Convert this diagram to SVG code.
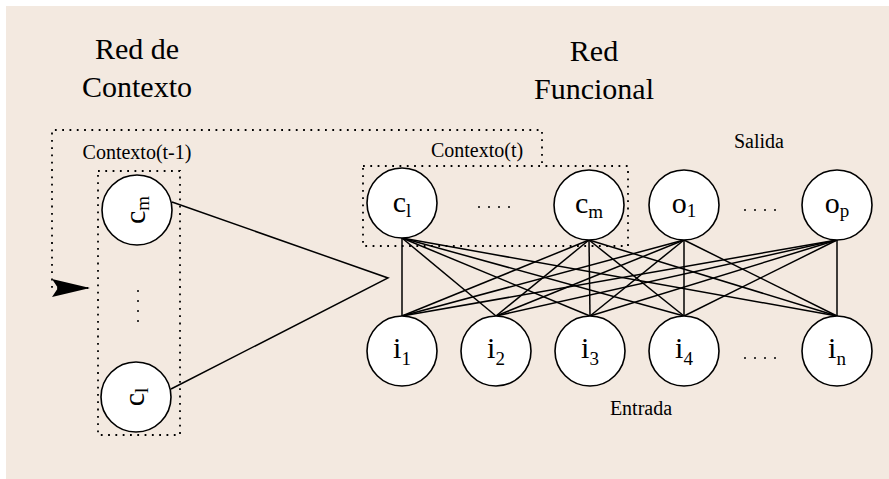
<svg xmlns="http://www.w3.org/2000/svg" width="889" height="479" viewBox="0 0 889 479">
<style>
.t{font-family:"Liberation Serif","Times New Roman",serif;fill:#000}
.title{font-size:30px;text-anchor:middle}
.lab{font-size:20px;text-anchor:middle}
.nl{font-size:30px;text-anchor:middle}
.sub{font-size:19px}
.node{fill:#fff;stroke:#000;stroke-width:1.6}
.edge{stroke:#000;stroke-width:1.5;fill:none}
.dot{stroke:#000;stroke-width:1.8;fill:none;stroke-dasharray:1.8 5.5}
.fdot{fill:#000}
</style>
<defs>
<marker id="arr" markerWidth="40" markerHeight="20" refX="38" refY="9" orient="auto" markerUnits="userSpaceOnUse">
<path d="M0,0 L38,9 L0,18 L6,9 Z" fill="#000"/>
</marker>
</defs>
<rect x="6" y="6" width="883" height="473" fill="#f3e9e0"/>

<g id="titles">
<text class="t title" x="137" y="59">Red de</text>
<text class="t title" x="137" y="97">Contexto</text>
<text class="t title" x="594" y="61">Red</text>
<text class="t title" x="594" y="99">Funcional</text>
<text class="t lab" x="137" y="159">Contexto(t-1)</text>
<text class="t lab" x="477" y="157">Contexto(t)</text>
<text class="t lab" x="759" y="148">Salida</text>
<text class="t lab" x="641" y="415">Entrada</text>
</g>

<g id="groups">
<path class="dot" d="M542,163 L542,130 L52,130 L52,288 L90,288" marker-end="url(#arr)"/>
<rect class="dot" x="98" y="171" width="82" height="264"/>
<rect class="dot" x="363" y="166" width="265" height="80"/>
</g>

<g id="connectors">
<path class="edge" d="M172,202 L388,278 L171,389"/>
<g>
<line class="edge" x1="402" y1="238" x2="402" y2="316"/>
<line class="edge" x1="402" y1="238" x2="496" y2="316"/>
<line class="edge" x1="402" y1="238" x2="590" y2="316"/>
<line class="edge" x1="402" y1="238" x2="684" y2="316"/>
<line class="edge" x1="402" y1="238" x2="837" y2="316"/>
<line class="edge" x1="589" y1="240" x2="402" y2="316"/>
<line class="edge" x1="589" y1="240" x2="496" y2="316"/>
<line class="edge" x1="589" y1="240" x2="590" y2="316"/>
<line class="edge" x1="589" y1="240" x2="684" y2="316"/>
<line class="edge" x1="589" y1="240" x2="837" y2="316"/>
<line class="edge" x1="684" y1="240" x2="402" y2="316"/>
<line class="edge" x1="684" y1="240" x2="496" y2="316"/>
<line class="edge" x1="684" y1="240" x2="590" y2="316"/>
<line class="edge" x1="684" y1="240" x2="684" y2="316"/>
<line class="edge" x1="684" y1="240" x2="837" y2="316"/>
<line class="edge" x1="837" y1="240" x2="402" y2="316"/>
<line class="edge" x1="837" y1="240" x2="496" y2="316"/>
<line class="edge" x1="837" y1="240" x2="590" y2="316"/>
<line class="edge" x1="837" y1="240" x2="684" y2="316"/>
<line class="edge" x1="837" y1="240" x2="837" y2="316"/>
</g>
</g>

<g id="ctx-cm">
<circle class="node" cx="137" cy="210" r="35"/>
<text class="t nl" transform="translate(137,210) rotate(-90)" x="0" y="8">c<tspan class="sub" dy="4">m</tspan></text>
</g>
<g id="ctx-dots">
<circle class="fdot" cx="138" cy="291" r="1"/>
<circle class="fdot" cx="138" cy="301" r="1"/>
<circle class="fdot" cx="138" cy="311" r="1"/>
<circle class="fdot" cx="138" cy="321" r="1"/>
</g>
<g id="ctx-cl">
<circle class="node" cx="136" cy="397" r="35"/>
<text class="t nl" transform="translate(136,397) rotate(-90)" x="0" y="8">c<tspan class="sub" dy="4">l</tspan></text>
</g>

<g id="f-cl">
<circle class="node" cx="402" cy="203" r="35"/>
<text class="t nl" x="402" y="212">c<tspan class="sub" dy="5">l</tspan></text>
</g>
<g id="f-cdots">
<circle class="fdot" cx="479" cy="207" r="1"/>
<circle class="fdot" cx="489" cy="207" r="1"/>
<circle class="fdot" cx="499" cy="207" r="1"/>
<circle class="fdot" cx="509" cy="207" r="1"/>
</g>
<g id="f-cm">
<circle class="node" cx="589" cy="205" r="35"/>
<text class="t nl" x="589" y="213">c<tspan class="sub" dy="5">m</tspan></text>
</g>
<g id="f-o1">
<circle class="node" cx="684" cy="205" r="35"/>
<text class="t nl" x="684" y="213">o<tspan class="sub" dy="4">1</tspan></text>
</g>
<g id="f-odots">
<circle class="fdot" cx="745" cy="210" r="1"/>
<circle class="fdot" cx="755" cy="210" r="1"/>
<circle class="fdot" cx="765" cy="210" r="1"/>
<circle class="fdot" cx="775" cy="210" r="1"/>
</g>
<g id="f-op">
<circle class="node" cx="837" cy="205" r="35"/>
<text class="t nl" x="837" y="213">o<tspan class="sub" dy="4">p</tspan></text>
</g>

<g id="i1">
<circle class="node" cx="402" cy="351" r="35"/>
<text class="t nl" x="402" y="358">i<tspan class="sub" dy="7">1</tspan></text>
</g>
<g id="i2">
<circle class="node" cx="496" cy="351" r="35"/>
<text class="t nl" x="496" y="358">i<tspan class="sub" dy="7">2</tspan></text>
</g>
<g id="i3">
<circle class="node" cx="590" cy="351" r="35"/>
<text class="t nl" x="590" y="358">i<tspan class="sub" dy="7">3</tspan></text>
</g>
<g id="i4">
<circle class="node" cx="684" cy="351" r="35"/>
<text class="t nl" x="684" y="358">i<tspan class="sub" dy="7">4</tspan></text>
</g>
<g id="i-dots">
<circle class="fdot" cx="745" cy="358" r="1"/>
<circle class="fdot" cx="755" cy="358" r="1"/>
<circle class="fdot" cx="765" cy="358" r="1"/>
<circle class="fdot" cx="775" cy="358" r="1"/>
</g>
<g id="in">
<circle class="node" cx="837" cy="351" r="35"/>
<text class="t nl" x="837" y="358">i<tspan class="sub" dy="7">n</tspan></text>
</g>
</svg>
